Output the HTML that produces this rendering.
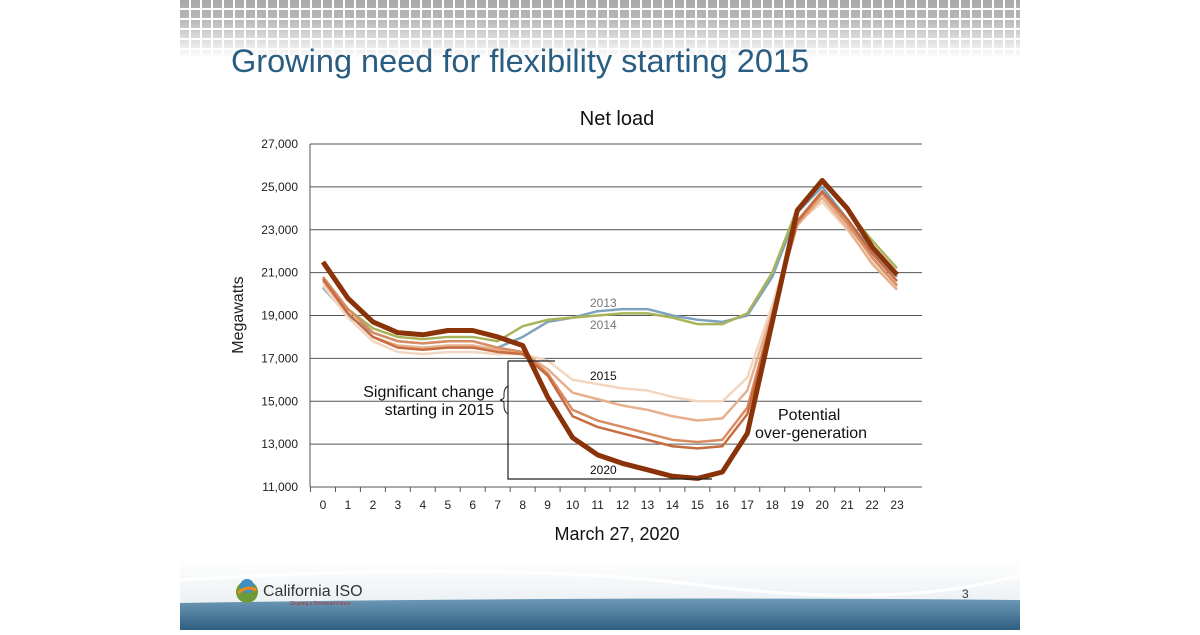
<!DOCTYPE html>
<html><head><meta charset="utf-8"><style>
body{margin:0;width:1200px;height:630px;background:#fff;overflow:hidden;font-family:"Liberation Sans",sans-serif}
</style></head><body>
<svg width="1200" height="630" xmlns="http://www.w3.org/2000/svg" font-family="Liberation Sans, sans-serif">
<defs>
<pattern id="sq" x="180" y="0" width="11" height="10" patternUnits="userSpaceOnUse"><rect x="0" y="0" width="9" height="8" fill="#a8a8a8"/></pattern>
<linearGradient id="fade" x1="0" y1="0" x2="0" y2="1"><stop offset="0" stop-color="#fff" stop-opacity="0"/><stop offset="0.35" stop-color="#fff" stop-opacity="0.2"/><stop offset="1" stop-color="#fff" stop-opacity="1"/></linearGradient>
<linearGradient id="bar" x1="0" y1="0" x2="0" y2="1"><stop offset="0" stop-color="#6f9ab8"/><stop offset="1" stop-color="#2f5f80"/></linearGradient>
<linearGradient id="foot" x1="0" y1="0" x2="0" y2="1"><stop offset="0" stop-color="#fff"/><stop offset="1" stop-color="#e8eef2"/></linearGradient>
</defs>
<rect x="180" y="0" width="840" height="56" fill="url(#sq)"/>
<rect x="180" y="0" width="840" height="58" fill="url(#fade)"/>
<text x="231" y="72" font-size="32.5" fill="#2a5d82">Growing need for flexibility starting 2015</text>
<rect x="180" y="560" width="840" height="50" fill="url(#foot)"/>
<path d="M180 580 Q500 560 700 585 T1020 575" stroke="#fff" stroke-width="3" fill="none"/>
<path d="M180 603 Q600 596 1020 600 L1020 630 L180 630Z" fill="url(#bar)"/>
<circle cx="247" cy="592" r="11" fill="#6f9a3a"/><circle cx="247" cy="586" r="7" fill="#3f8fc4"/><path d="M238 593 Q247 585 256 590" stroke="#f08a1c" stroke-width="3" fill="none"/>
<text x="263" y="596" font-size="16" fill="#333">California ISO</text>
<text x="290" y="605" font-size="5" fill="#a33">Shaping a Renewed Future</text>
<text x="962" y="598" font-size="12" fill="#333">3</text>
<text x="617" y="125" font-size="20" text-anchor="middle" fill="#111">Net load</text>
<g id="grid" stroke="#555" stroke-width="1"></g>
<g id="lbl" font-size="12" fill="#222"></g>
<line x1="310" y1="144" x2="310" y2="487" stroke="#555"/>
<text transform="translate(243,315) rotate(-90)" font-size="16" text-anchor="middle" fill="#222">Megawatts</text>
<text x="617" y="540" font-size="18" text-anchor="middle" fill="#111">March 27, 2020</text>
<g id="lines" fill="none" stroke-linejoin="round"></g>
<path d="M508 361 L555 361 M508 361 L508 479 L712 479" stroke="#222" stroke-width="1.2" fill="none"/>
<path d="M508 386 Q504 388 504 394 L504 397 Q504 399 500 400 Q504 401 504 403 L504 406 Q504 412 508 414" stroke="#222" stroke-width="1" fill="none"/>
<text x="494" y="397" font-size="16" text-anchor="end" fill="#111">Significant change</text>
<text x="494" y="415" font-size="16" text-anchor="end" fill="#111">starting in 2015</text>
<text x="778" y="420" font-size="16" fill="#111">Potential</text>
<text x="755" y="438" font-size="16" fill="#111">over-generation</text>
<text x="590" y="307" font-size="12" fill="#777">2013</text>
<text x="590" y="329" font-size="12" fill="#777">2014</text>
<text x="590" y="380" font-size="12" fill="#111">2015</text>
<text x="590" y="474" font-size="12" fill="#111">2020</text>
</svg>
<script>
const ns="http://www.w3.org/2000/svg";
const Y=v=>487-(v-11000)*343/16000, X=h=>323+h*24.96;
const g=document.getElementById('grid'),l=document.getElementById('lbl');
for(let v=11000;v<=27000;v+=2000){let e=document.createElementNS(ns,'line');e.setAttribute('x1',310);e.setAttribute('x2',922);e.setAttribute('y1',Y(v));e.setAttribute('y2',Y(v));g.appendChild(e);
let t=document.createElementNS(ns,'text');t.setAttribute('x',298);t.setAttribute('y',Y(v)+4);t.setAttribute('text-anchor','end');t.textContent=(v/1000)+',000';l.appendChild(t);}
for(let h=0;h<24;h++){let t=document.createElementNS(ns,'text');t.setAttribute('x',X(h));t.setAttribute('y',509);t.setAttribute('text-anchor','middle');t.textContent=h;l.appendChild(t);
let e=document.createElementNS(ns,'line');e.setAttribute('x1',X(h)-12.5);e.setAttribute('x2',X(h)-12.5);e.setAttribute('y1',487);e.setAttribute('y2',492);g.appendChild(e);}
const S=[
["#7fa3bd",2.5,[20300,19000,18200,17800,17700,17800,17800,17500,18000,18700,18900,19200,19300,19300,19000,18800,18700,19000,20800,23800,25000,23500,22000,20800]],
["#a9b35a",2.5,[20700,19300,18400,18000,17900,18000,18000,17800,18500,18800,18900,19000,19100,19100,18900,18600,18600,19100,21000,24000,25200,23900,22500,21200]],
["#f3d6c0",2.5,[20400,18900,17800,17300,17200,17300,17300,17200,17200,16900,16000,15800,15600,15500,15200,15000,15000,16100,19500,23300,24300,23000,21500,20300]],
["#e6b08c",2.5,[20600,19100,18000,17600,17500,17600,17600,17400,17300,16500,15400,15100,14800,14600,14300,14100,14200,15500,19200,23200,24500,23100,21400,20200]],
["#d98c62",2.5,[20800,19300,18200,17800,17700,17800,17800,17500,17300,16300,14600,14100,13800,13500,13200,13100,13200,14700,19000,23300,24700,23300,21700,20400]],
["#c76b40",2.5,[20700,19100,18000,17500,17400,17500,17500,17300,17200,16200,14300,13800,13500,13200,12900,12800,12900,14400,18900,23400,24800,23500,21900,20600]],
["#8a3208",5,[21500,19800,18700,18200,18100,18300,18300,18000,17600,15200,13300,12500,12100,11800,11500,11400,11700,13500,18700,23900,25300,24000,22200,20900]]];
const L=document.getElementById('lines');
for(const [c,w,d] of S){let p=document.createElementNS(ns,'polyline');p.setAttribute('points',d.map((v,i)=>X(i)+','+Y(v)).join(' '));p.setAttribute('stroke',c);p.setAttribute('stroke-width',w);L.appendChild(p);}
</script>
</body></html>
